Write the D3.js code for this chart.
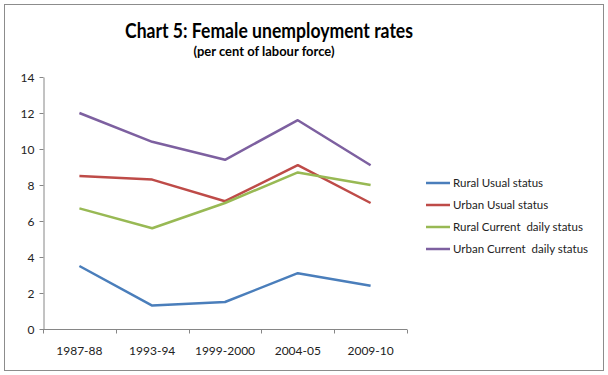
<!DOCTYPE html>
<html>
<head>
<meta charset="utf-8">
<script src="https://cdn.jsdelivr.net/npm/d3@7"></script>
<style>
  body { margin: 0; background: #fff; }
  text { font-family: Lato, "Open Sans", sans-serif; }
</style>
</head>
<body>
<div id="chart"></div>
<script>
var years = ["1987-88", "1993-94", "1999-2000", "2004-05", "2009-10"];
var seriesNames = ["Rural Usual status", "Urban Usual status", "Rural Current  daily status", "Urban Current  daily status"];
var ruralUsual = [3.5, 1.3, 1.5, 3.1, 2.4];
var urbanUsual = [8.5, 8.3, 7.1, 9.1, 7.0];
var ruralDaily = [6.7, 5.6, 7.0, 8.7, 8.0];
var urbanDaily = [12.0, 10.4, 9.4, 11.6, 9.1];
var yTicks = [0, 2, 4, 6, 8, 10, 12, 14];
var colors = ["#4a7ebb", "#be4b48", "#98b954", "#7d60a0"];

var series = [ruralUsual, urbanUsual, ruralDaily, urbanDaily];

var width = 608, height = 375;
var plot = { left: 43, right: 407, top: 77, bottom: 329 };

var svg = d3.select("#chart")
    .append("svg")
    .attr("width", width)
    .attr("height", height);

// outer border
svg.append("rect")
    .attr("x", 4.5).attr("y", 4.5)
    .attr("width", 599).attr("height", 366)
    .attr("fill", "#fff")
    .attr("stroke", "#8c8c8c")
    .attr("stroke-width", 1);

svg.append("text")
    .attr("x", 269).attr("y", 38)
    .attr("text-anchor", "middle")
    .attr("font-weight", "bold")
    .attr("font-size", "21px")
    .attr("textLength", 288)
    .attr("lengthAdjust", "spacingAndGlyphs")
    .attr("fill", "#000")
    .text("Chart 5: Female unemployment rates");

svg.append("text")
    .attr("x", 264).attr("y", 56)
    .attr("text-anchor", "middle")
    .attr("font-weight", "bold")
    .attr("font-size", "14px")
    .attr("textLength", 141)
    .attr("lengthAdjust", "spacingAndGlyphs")
    .attr("fill", "#000")
    .text("(per cent of labour force)");

var x = d3.scaleBand()
    .domain(years)
    .range([plot.left, plot.right]);

var y = d3.scaleLinear()
    .domain([0, 14])
    .range([plot.bottom, plot.top]);

// y axis
var yAxis = svg.append("g")
    .attr("transform", "translate(" + (plot.left + 0.5) + ",0)")
    .call(d3.axisLeft(y).tickValues(yTicks).tickSize(4).tickSizeOuter(0));
yAxis.select(".domain").attr("stroke", "#868686");
yAxis.selectAll(".tick line").attr("stroke", "#868686");
yAxis.selectAll(".tick text")
    .attr("font-size", "12px")
    .attr("fill", "#222")
    .attr("x", -9)
    .attr("dy", "0.35em")
    .style("font-family", "Lato, sans-serif");

// x axis with ticks on band boundaries
var xAxis = svg.append("g")
    .attr("transform", "translate(0," + (plot.bottom + 0.5) + ")");
xAxis.append("line")
    .attr("x1", plot.left).attr("x2", plot.right)
    .attr("stroke", "#868686");
var bounds = years.map(function (d) { return x(d); }).concat([x.range()[1]]);
xAxis.selectAll(".xtick")
    .data(bounds)
    .enter().append("line")
    .attr("x1", function (d) { return Math.round(d) + 0.5; })
    .attr("x2", function (d) { return Math.round(d) + 0.5; })
    .attr("y1", 0).attr("y2", 4)
    .attr("stroke", "#868686");
xAxis.selectAll(".xlabel")
    .data(years)
    .enter().append("text")
    .attr("x", function (d) { return x(d) + x.bandwidth() / 2; })
    .attr("y", 25)
    .attr("text-anchor", "middle")
    .attr("font-size", "12px")
    .attr("fill", "#222")
    .text(function (d) { return d; });

var line = d3.line()
    .x(function (d, i) { return x(years[i]) + x.bandwidth() / 2; })
    .y(function (d) { return y(d); });

svg.selectAll(".series")
    .data(series)
    .enter().append("path")
    .attr("fill", "none")
    .attr("stroke", function (d, i) { return colors[i]; })
    .attr("stroke-width", 2.5)
    .attr("stroke-linejoin", "round")
    .attr("d", line);

// legend
var legend = svg.append("g")
    .attr("transform", "translate(426,183)");
var items = legend.selectAll(".item")
    .data(seriesNames)
    .enter().append("g")
    .attr("transform", function (d, i) { return "translate(0," + (i * 22) + ")"; });
items.append("line")
    .attr("x1", 0).attr("x2", 24)
    .attr("stroke", function (d, i) { return colors[i]; })
    .attr("stroke-width", 2.5);
items.append("text")
    .attr("x", 27)
    .attr("dy", "0.35em")
    .attr("font-size", "11.5px")
    .attr("fill", "#222")
    .attr("xml:space", "preserve")
    .style("white-space", "pre")
    .text(function (d) { return d; });
</script>
</body>
</html>
